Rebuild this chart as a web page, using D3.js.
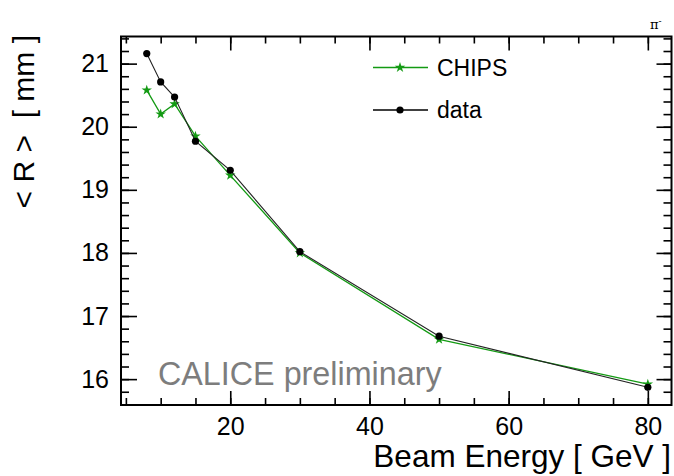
<!DOCTYPE html>
<html>
<head>
<meta charset="utf-8">
<script src="https://cdn.jsdelivr.net/npm/d3@7"></script>
<style>
  body { margin: 0; background: #fff; }
  svg { display: block; font-family: "Liberation Sans", Arial, Helvetica, sans-serif; }
  text { white-space: pre; }
</style>
</head>
<body>
<svg id="chart"></svg>
<script>
const energies = [8, 10, 12, 15, 20, 30, 50, 80];
const chipsRadius = [20.58, 20.2, 20.36, 19.85, 19.23, 18.0, 16.63, 15.92];
const dataRadius = [21.16, 20.71, 20.47, 19.77, 19.31, 18.02, 16.68, 15.87];
const xMajorTicks = [20, 40, 60, 80];
const xMinorTicks = d3.range(5, 85, 5);
const yMajorTicks = [16, 17, 18, 19, 20, 21];
const yMinorTicks = d3.range(15.6, 21.41, 0.2);

const size = { width: 674, height: 476 };
const frame = { left: 121, right: 671.5, top: 36.5, bottom: 405 };
const green = "#139a13";

const svg = d3.select("#chart")
  .attr("width", size.width)
  .attr("height", size.height);

const x = d3.scaleLinear().domain([4.3, 83.4]).range([frame.left, frame.right]);
const y = d3.scaleLinear().domain([15.59, 21.43]).range([frame.bottom, frame.top]);

// ticks on all four sides, pointing inwards, ROOT style
const addAxis = (axis, ticks, len, translate, labels) => {
  const g = svg.append("g")
    .attr("transform", translate)
    .call(axis.tickValues(ticks).tickSizeInner(-len).tickSizeOuter(0).tickPadding(12)
      .tickFormat(labels ? d3.format("d") : ""))
    .attr("font-size", 25)
    .attr("font-family", null);
  g.select(".domain").remove();
  g.selectAll(".tick line").attr("stroke", "#000").attr("stroke-width", 1.6);
  g.selectAll(".tick text").attr("fill", "#000");
  return g;
};

addAxis(d3.axisBottom(x), xMinorTicks, 7, `translate(0,${frame.bottom})`, false);
addAxis(d3.axisBottom(x), xMajorTicks, 14, `translate(0,${frame.bottom})`, true);
addAxis(d3.axisTop(x), xMinorTicks, 7, `translate(0,${frame.top})`, false);
addAxis(d3.axisTop(x), xMajorTicks, 14, `translate(0,${frame.top})`, false);
addAxis(d3.axisLeft(y), yMinorTicks, 8, `translate(${frame.left},0)`, false);
addAxis(d3.axisLeft(y), yMajorTicks, 16, `translate(${frame.left},0)`, true);
addAxis(d3.axisRight(y), yMinorTicks, 8, `translate(${frame.right},0)`, false);
addAxis(d3.axisRight(y), yMajorTicks, 15, `translate(${frame.right},0)`, false);

svg.append("rect")
  .attr("x", frame.left)
  .attr("y", frame.top)
  .attr("width", frame.right - frame.left)
  .attr("height", frame.bottom - frame.top)
  .attr("fill", "none")
  .attr("stroke", "#000")
  .attr("stroke-width", 2);

// axis titles
svg.append("text")
  .attr("x", 671)
  .attr("y", 467)
  .attr("text-anchor", "end")
  .attr("font-size", 31.5)
  .text("Beam Energy [ GeV ]");

svg.append("text")
  .attr("transform", "translate(34,35) rotate(-90)")
  .attr("text-anchor", "end")
  .attr("font-size", 30)
  .text("< R >  [ mm ]");

svg.append("text")
  .attr("x", 158)
  .attr("y", 385)
  .attr("font-size", 32.3)
  .attr("fill", "#7d7d7d")
  .text("CALICE preliminary");

const pi = svg.append("text")
  .attr("x", 650)
  .attr("y", 29)
  .attr("font-size", 13)
  .attr("font-family", "DejaVu Serif, serif");
pi.append("tspan").text("π");
pi.append("tspan").attr("dy", -5).attr("font-size", 9).text("-");

const points = values => energies.map((e, i) => [e, values[i]]);

const line = d3.line()
  .x(d => x(d[0]))
  .y(d => y(d[1]));

const star = d3.symbol().type(d3.symbolStar).size(34);

// CHIPS underneath, data on top
svg.append("path")
  .attr("d", line(points(chipsRadius)))
  .attr("fill", "none")
  .attr("stroke", green)
  .attr("stroke-width", 1.3);

svg.append("g")
  .selectAll("path")
  .data(points(chipsRadius))
  .join("path")
  .attr("transform", d => `translate(${x(d[0])},${y(d[1])})`)
  .attr("d", star)
  .attr("fill", green);

svg.append("path")
  .attr("d", line(points(dataRadius)))
  .attr("fill", "none")
  .attr("stroke", "#222")
  .attr("stroke-width", 1.1);

svg.append("g")
  .selectAll("circle")
  .data(points(dataRadius))
  .join("circle")
  .attr("cx", d => x(d[0]))
  .attr("cy", d => y(d[1]))
  .attr("r", 3.6)
  .attr("fill", "#000");

// legend
const legend = svg.append("g");
const entries = [
  { name: "CHIPS", color: green, y: 67.5, marker: "star" },
  { name: "data", color: "#000", y: 110, marker: "dot" }
];
entries.forEach(e => {
  legend.append("line")
    .attr("x1", 373).attr("x2", 428)
    .attr("y1", e.y).attr("y2", e.y)
    .attr("stroke", e.color)
    .attr("stroke-width", 1.3);
  if (e.marker === "star") {
    legend.append("path")
      .attr("transform", `translate(400,${e.y})`)
      .attr("d", star)
      .attr("fill", e.color);
  } else {
    legend.append("circle")
      .attr("cx", 400).attr("cy", e.y).attr("r", 3.6)
      .attr("fill", e.color);
  }
  legend.append("text")
    .attr("x", 437)
    .attr("y", e.y + 8)
    .attr("font-size", 23)
    .text(e.name);
});
</script>
</body>
</html>
